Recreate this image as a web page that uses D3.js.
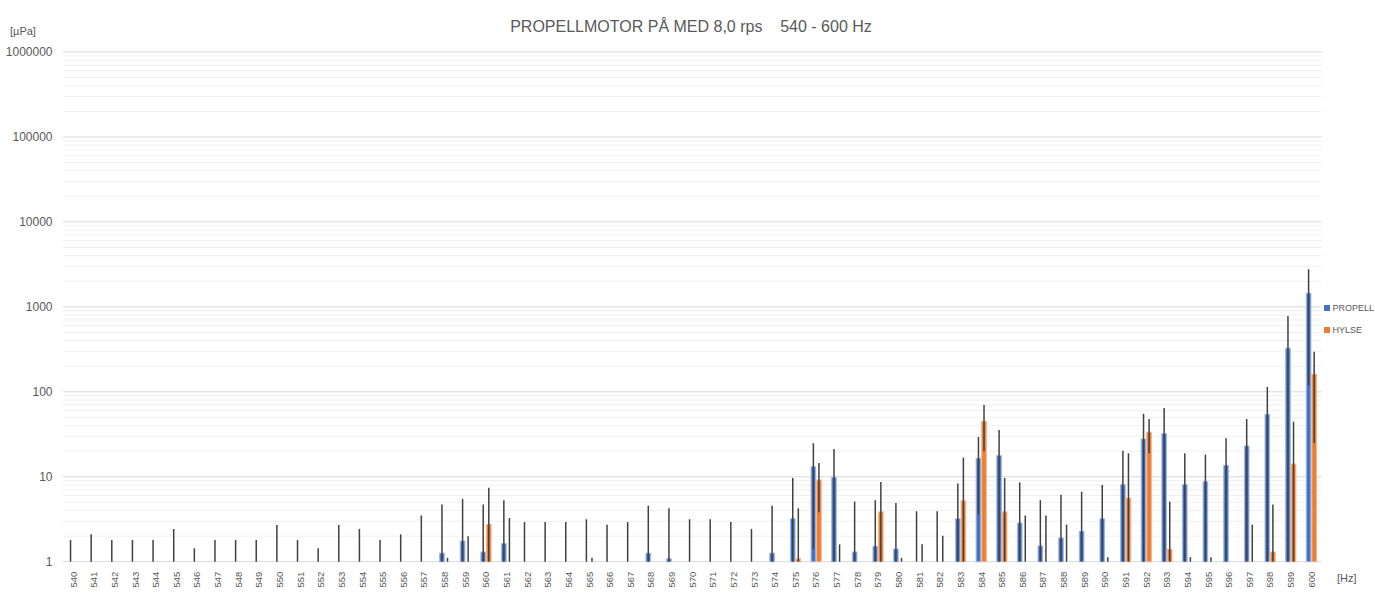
<!DOCTYPE html>
<html><head><meta charset="utf-8">
<script src="https://cdn.jsdelivr.net/npm/d3@7"></script>
<style>
body{margin:0;background:#fff}
svg{display:block}
text{font-family:"Liberation Sans",Arial,sans-serif}
</style>
</head><body>
<svg id="chart" width="1375" height="597"></svg>
<script>
const title = "PROPELLMOTOR PÅ MED 8,0 rps    540 - 600 Hz";
const yUnit = "[µPa]";
const xUnit = "[Hz]";
const seriesNames = ["PROPELL", "HYLSE"];
const categories = ["540","541","542","543","544","545","546","547","548","549",
  "550","551","552","553","554","555","556","557","558","559",
  "560","561","562","563","564","565","566","567","568","569",
  "570","571","572","573","574","575","576","577","578","579",
  "580","581","582","583","584","585","586","587","588","589",
  "590","591","592","593","594","595","596","597","598","599","600"];
const yTickValues = [1, 10, 100, 1000, 10000, 100000, 1000000];

// PROPELL (blue) values and symmetric error amounts
const propellValues = [0.8,0.8,0.8,0.8,0.8,0.8,0.8,0.8,0.8,0.8,
  0.8,0.8,0.8,0.8,0.8,0.8,0.8,0.8,1.26,1.75,
  1.3,1.63,0.8,0.8,0.8,0.8,0.8,0.8,1.26,1.08,
  0.8,0.8,0.8,0.8,1.26,3.2,13.1,9.85,1.3,1.52,
  1.41,0.8,0.8,3.2,16.5,17.7,2.85,1.53,1.9,2.28,
  3.2,8.06,27.8,32.1,8.06,8.75,13.6,23,54.3,325,1445];
const propellErrors = [1.0,1.3,1.0,1.0,1.0,1.63,0.64,1.0,1.0,1.0,
  1.9,1.0,0.64,1.9,1.63,1.0,1.3,2.7,3.44,3.75,
  3.4,3.67,2.13,2.13,2.13,2.36,1.93,2.13,3.3,3.17,
  2.36,2.36,2.13,1.63,3.3,6.5,11.7,11.35,3.8,3.78,
  3.49,3.12,3.12,5.1,12.9,17.8,5.75,3.77,4.25,4.39,
  4.8,12.24,27.4,32.4,10.84,9.45,14.8,24.9,59.7,455,1325];

// HYLSE (orange) values and symmetric error amounts (null = no data)
const hylseValues = [null,null,null,null,null,null,null,null,null,null,
  null,null,null,null,null,null,null,null,0.6,0.6,
  2.75,0.6,null,null,null,0.6,null,null,null,null,
  null,null,null,null,null,1.08,9.16,0.6,null,3.85,
  0.6,0.6,0.6,5.2,45,3.85,0.6,0.6,0.6,null,
  0.6,5.6,33.4,1.4,0.6,0.6,null,0.6,1.3,14.1,161];
const hylseErrors = [null,null,null,null,null,null,null,null,null,null,
  null,null,null,null,null,null,null,null,0.51,1.4,
  4.65,2.67,null,null,null,0.51,null,null,null,null,
  null,null,null,null,null,3.17,5.34,1.0,null,4.85,
  0.51,1.0,1.42,11.6,25,5.85,2.9,2.9,2.13,null,
  0.53,13.3,14.5,3.7,0.53,0.53,null,2.13,3.4,30.4,136];

const colors = ["#4472C4", "#ED7D31"];
const strokes = ["#9fb7e3", "#f4b58a"];

const svg = d3.select("#chart");
const W = 1375, H = 597;
const m = {left: 63, right: 1321.7, top: 52, bottom: 561.7};

const x0 = d3.scaleBand().domain(categories).range([m.left, m.right])
  .paddingInner(0.46).paddingOuter(0.23);
const x1 = d3.scaleBand().domain(seriesNames).range([0, x0.bandwidth()]).padding(0);
const y = d3.scaleLog().domain([1, 1000000]).range([m.bottom, m.top]);

// gridlines (minor then major)
const minor = [];
for (let d = 0; d < 6; d++) for (let k = 2; k <= 9; k++) minor.push(k * Math.pow(10, d));
svg.append("g").selectAll("line").data(minor).join("line")
  .attr("x1", m.left).attr("x2", m.right)
  .attr("y1", d => y(d)).attr("y2", d => y(d))
  .attr("stroke", "#efefef").attr("stroke-width", 1);
svg.append("g").selectAll("line").data(yTickValues).join("line")
  .attr("x1", m.left).attr("x2", m.right)
  .attr("y1", d => y(d)).attr("y2", d => y(d))
  .attr("stroke", "#d9d9d9").attr("stroke-width", 1);

// y axis labels
const yAxis = d3.axisLeft(y).tickValues(yTickValues).tickFormat(d3.format("d")).tickSize(0).tickPadding(0);
const gy = svg.append("g").attr("transform", `translate(${52.5},0)`).call(yAxis);
gy.select(".domain").remove();
gy.selectAll("text").attr("font-size", 12).attr("fill", "#595959")
  .attr("font-family", '"Liberation Sans",Arial,sans-serif');

// x axis labels
const xAxis = d3.axisBottom(x0).tickSize(0).tickPadding(0);
const gx = svg.append("g").attr("transform", `translate(0,${m.bottom})`).call(xAxis);
gx.select(".domain").remove();
gx.selectAll("text")
  .attr("font-size", 9.5).attr("fill", "#595959")
  .attr("font-family", '"Liberation Sans",Arial,sans-serif')
  .attr("transform", "rotate(-90)")
  .attr("x", -10).attr("y", 0).attr("dy", "0.35em")
  .attr("text-anchor", "end");

// data rows
const rows = categories.map((c, i) => ({
  cat: c,
  items: [
    {s: 0, name: seriesNames[0], v: propellValues[i], e: propellErrors[i]},
    {s: 1, name: seriesNames[1], v: hylseValues[i], e: hylseErrors[i]}
  ].filter(d => d.v !== null)
}));

const groups = svg.append("g").selectAll("g").data(rows).join("g")
  .attr("transform", d => `translate(${x0(d.cat)},0)`);

// bars
groups.selectAll("rect").data(d => d.items.filter(it => it.v > 1)).join("rect")
  .attr("x", d => x1(d.name) + 0.5)
  .attr("width", x1.bandwidth() - 1)
  .attr("y", d => y(d.v))
  .attr("height", d => y(1) - y(d.v))
  .attr("fill", d => colors[d.s])
  .attr("stroke", d => strokes[d.s]).attr("stroke-width", 1);

// error bars
groups.selectAll("line.err").data(d => d.items.filter(it => it.v + it.e > 1)).join("line")
  .attr("class", "err")
  .attr("x1", d => x1(d.name) + x1.bandwidth() / 2)
  .attr("x2", d => x1(d.name) + x1.bandwidth() / 2)
  .attr("y1", d => y(Math.max(1, d.v - d.e)))
  .attr("y2", d => y(d.v + d.e))
  .attr("stroke", "#404040").attr("stroke-width", 1.5);

// title
svg.append("text").attr("x", 691).attr("y", 31.5).attr("text-anchor", "middle")
  .attr("font-size", 16).attr("fill", "#595959").style("white-space", "pre")
  .attr("xml:space", "preserve").text(title);

// units
svg.append("text").attr("x", 10).attr("y", 35).attr("font-size", 11).attr("fill", "#595959").text(yUnit);
svg.append("text").attr("x", 1337).attr("y", 582).attr("font-size", 11).attr("fill", "#595959").text(xUnit);

// legend
const lg = svg.append("g").selectAll("g").data(seriesNames).join("g")
  .attr("transform", (d, i) => `translate(1324,${308 + i * 22})`);
lg.append("rect").attr("x", 0).attr("y", -3).attr("width", 6).attr("height", 6)
  .attr("fill", (d, i) => colors[i]);
lg.append("text").attr("x", 8.5).attr("y", 0).attr("dy", "0.35em")
  .attr("font-size", 9).attr("fill", "#595959").text(d => d);
</script>
</body></html>
